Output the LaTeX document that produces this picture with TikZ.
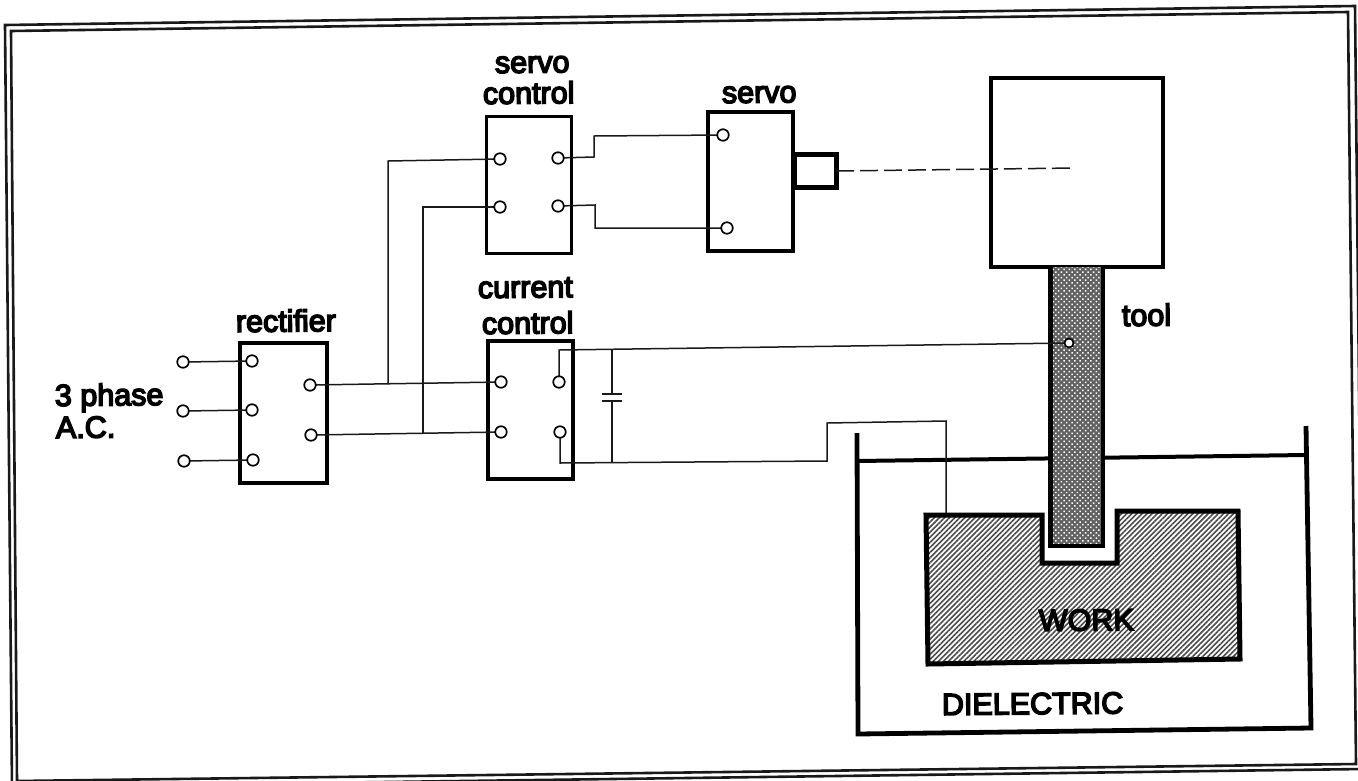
\documentclass[tikz,border=0pt]{standalone}
\usepackage{fontspec}
\usetikzlibrary{patterns.meta}
\newfontfamily\labfont[FakeBold=5]{Liberation Sans}
\tikzset{
  x=1pt,y=-1pt,
  frameline/.style={line width=2.6pt,draw=black!90},
  bx/.style={draw=black,fill=white,line width=4pt,inner sep=0pt,outer sep=0pt,minimum width=#1},
  bxthin/.style={bx=#1,line width=3pt},
  term/.style={circle,draw=black,fill=white,line width=1.7pt,minimum size=11.5pt,inner sep=0pt,outer sep=0pt},
  wire/.style={line width=1.5pt,draw=black!90,line join=miter},
  heavy/.style={line width=4.5pt,draw=black,line join=miter,line cap=butt},
  lab/.style={font=\labfont\fontsize{30.5}{32}\selectfont,inner sep=0pt,outer sep=0pt,anchor=base west,rotate=0.5},
}
\begin{document}
\begin{tikzpicture}
\useasboundingbox (0,0) rectangle (1358,780);
\begin{scope}
\clip (0,0) rectangle (1358,780);
\draw[frameline] (5,25) -- (1355,6) -- (1363,769) -- (12,787) -- cycle;
\draw[frameline] (11,31) -- (1348,12) -- (1356,764) -- (17,781) -- cycle;
\end{scope}

% tank
\coordinate (tankTL) at (857,433);
\coordinate (tankBL) at (858,734);
\coordinate (tankBR) at (1311,728);
\coordinate (tankTR) at (1306,426);
\coordinate (lvlL) at (857,461);
\coordinate (lvlR) at (1306,455);
\draw[heavy,line width=4.8pt] (tankTL) -- (tankBL) -- (tankBR) -- (tankTR);
\draw[heavy,line width=4pt] (lvlL) -- (lvlR);

% work piece
\coordinate (workA) at (926,515);
\coordinate (workB) at (1042,515);
\coordinate (workC) at (1042,563);
\coordinate (workD) at (1117,563);
\coordinate (workE) at (1117,511);
\coordinate (workF) at (1238,511);
\coordinate (workG) at (1240,659);
\coordinate (workH) at (928,664);
\fill[white] (workA) -- (workB) -- (workC) -- (workD) -- (workE) -- (workF) -- (workG) -- (workH) -- cycle;
\fill[pattern={Lines[angle=45,distance=3.6pt,line width=1.6pt]},pattern color=black!70]
  (workA) -- (workB) -- (workC) -- (workD) -- (workE) -- (workF) -- (workG) -- (workH) -- cycle;
\draw[heavy,line width=5pt] (workA) -- (workB) -- (workC) -- (workD) -- (workE) -- (workF) -- (workG) -- (workH) -- cycle;
\node[lab] (work) at (1039,631) {WORK};
\node[lab] (diel) at (942,715) {DIELECTRIC};

% tool head and tool
\node[bx=172pt,minimum height=189pt] (head) at (1077,172.5) {};
\coordinate (toolA) at (1050.5,267);
\coordinate (toolB) at (1103,267);
\coordinate (toolC) at (1103,546);
\coordinate (toolD) at (1050.5,546);
\fill[white] (toolA) -- (toolB) -- (toolC) -- (toolD) -- cycle;
\fill[black!62] (toolA) rectangle (toolC);
\fill[pattern={Dots[angle=45,distance=3.8pt,radius=1.05pt]},pattern color=white] (toolA) rectangle (toolC);
\draw[heavy] (toolA) -- (toolD) -- (toolC) -- (toolB);

% boxes
\node[bx=87pt,minimum height=140pt] (rect) at (283.5,413) {};
\node[bx=85pt,minimum height=138pt] (cur) at (530.5,410) {};
\node[bxthin=85pt,minimum height=137pt] (sctl) at (528.5,184.5) {};
\node[bx=85pt,minimum height=139pt] (servo) at (750.5,181.5) {};
\node[draw=black,fill=white,line width=5pt,minimum width=42pt,minimum height=33pt,inner sep=0pt,outer sep=0pt] (shaft) at (815,171) {};

% labels
\node[lab] (lrect) at (236,332) {rectifier};
\node[lab] (lsv1) at (495,73) {servo};
\node[lab] (lsv2) at (483,104) {control};
\node[lab] (lsrv) at (722,103) {servo};
\node[lab] (lcu1) at (478,298) {current};
\node[lab] (lcu2) at (482,334) {control};
\node[lab] (ltool) at (1122,326) {tool};
\node[lab] (l3ph) at (55,406) {3 phase};
\node[lab] (lac) at (56,438) {A.C.};

% terminals
\coordinate (in1) at (183,362);
\coordinate (in2) at (183,411);
\coordinate (in3) at (184,461);
\coordinate (r1) at (252,361);
\coordinate (r2) at (252,410);
\coordinate (r3) at (253,460);
\coordinate (ro1) at (310,385);
\coordinate (ro2) at (311,435);
\coordinate (c1) at (501,382);
\coordinate (c2) at (501,432);
\coordinate (c3) at (559,382);
\coordinate (c4) at (560,432);
\coordinate (s1) at (500,159);
\coordinate (s2) at (500,207);
\coordinate (s3) at (558,158);
\coordinate (s4) at (558,206);
\coordinate (m1) at (723,135);
\coordinate (m2) at (727,228);
\coordinate (t) at (1069,343);

% connectors
\draw[wire] (in1) -- (r1);
\draw[wire] (in2) -- (r2);
\draw[wire] (in3) -- (r3);
\draw[wire] (ro1) -- (c1);
\draw[wire] (ro2) -- (c2);
\coordinate (j1) at (388,384);
\coordinate (j1t) at (388,161);
\coordinate (j2) at (423,433);
\coordinate (j2t) at (423,207);
\draw[wire] (j1) -- (j1t) -- (s1);
\draw[wire] (j2) -- (j2t) -- (s2);
\coordinate (b1a) at (594,157);
\coordinate (b1b) at (594,136);
\draw[wire] (s3) -- (b1a) -- (b1b) -- (m1);
\coordinate (b2a) at (595,205);
\coordinate (b2b) at (595,228);
\draw[wire] (s4) -- (b2a) -- (b2b) -- (m2);
\coordinate (c3up) at (559,350);
\coordinate (c4dn) at (560,463);
\coordinate (capT) at (612,350);
\coordinate (capB) at (612,463);
\coordinate (g1) at (827,461);
\coordinate (g2) at (827,423);
\coordinate (g3) at (946,421);
\coordinate (g4) at (946,513);
\draw[wire] (c3) -- (c3up) -- (t);
\draw[wire] (c4) -- (c4dn) -- (g1) -- (g2) -- (g3) -- (g4);
\coordinate (plateA) at (612,394);
\coordinate (plateB) at (612,401);
\draw[wire] (capT) -- (plateA);
\draw[wire] (plateB) -- (capB);
\draw[wire,line width=1.8pt] ([xshift=-10pt]plateA) -- ([xshift=10pt]plateA);
\draw[wire,line width=1.8pt] ([xshift=-10pt]plateB) -- ([xshift=10pt]plateB);
\coordinate (dashEnd) at (1075,168);
\draw[wire,dash pattern=on 18pt off 6pt] (shaft.east) -- (dashEnd);
\node[term] (nin1) at (in1) {};\node[term] (nin2) at (in2) {};\node[term] (nin3) at (in3) {};
\node[term] (nr1) at (r1) {};\node[term] (nr2) at (r2) {};\node[term] (nr3) at (r3) {};
\node[term] (nro1) at (ro1) {};\node[term] (nro2) at (ro2) {};
\node[term] (nc1) at (c1) {};\node[term] (nc2) at (c2) {};\node[term] (nc3) at (c3) {};\node[term] (nc4) at (c4) {};
\node[term] (ns1) at (s1) {};\node[term] (ns2) at (s2) {};\node[term] (ns3) at (s3) {};\node[term] (ns4) at (s4) {};
\node[term] (nm1) at (m1) {};\node[term] (nm2) at (m2) {};
\node[term,minimum size=9pt] (nt) at (t) {};
\end{tikzpicture}
\end{document}
